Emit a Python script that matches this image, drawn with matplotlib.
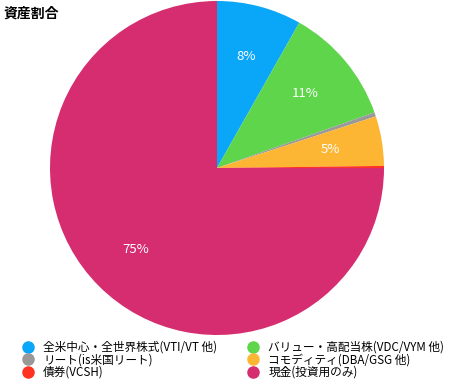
import matplotlib
matplotlib.use('Agg')
import matplotlib.pyplot as plt
from matplotlib.lines import Line2D

plt.rcParams['font.family'] = ['Noto Sans CJK JP', 'DejaVu Sans']

# データ
labels = ['全米中心・全世界株式(VTI/VT 他)', 'バリュー・高配当株(VDC/VYM 他)',
          'リート(is米国リート)', 'コモディティ(DBA/GSG 他)',
          '債券(VCSH)', '現金(投資用のみ)']
values = [8.2, 11.4, 0.4, 4.8, 0.2, 75.0]
colors = ['#0aa6f7', '#5ed54b', '#999999', '#fdb634', '#ff3322', '#d62c70']

fig = plt.figure(figsize=(4.5, 3.82), dpi=100)
ax = fig.add_axes([50 / 450, 47 / 382, 334 / 450, 334 / 382])

def fmt(p):
    return f'{p:.0f}%' if p >= 1 else ''

wedges, texts, autotexts = ax.pie(values, colors=colors, startangle=90, counterclock=False,
                                  autopct=fmt, pctdistance=0.69,
                                  wedgeprops=dict(linewidth=0))
for t in autotexts:
    t.set_color('white')
    t.set_fontsize(9.5)
ax.set_xlim(-1, 1)
ax.set_ylim(-1, 1)
ax.set_aspect('equal')

fig.text(4 / 450, 1 - 14 / 382, '資産割合', fontsize=10, fontweight='bold', va='center', ha='left')

# 凡例 (左列: 0,2,4 / 右列: 1,3,5)
order = [0, 2, 4, 1, 3, 5]
handles = [Line2D([], [], marker='o', linestyle='', markersize=8,
                  markerfacecolor=colors[i], markeredgecolor=colors[i]) for i in order]
fig.legend(handles, [labels[i] for i in order], ncol=2, loc='upper left',
           bbox_to_anchor=(22 / 450, 1 - 341 / 382), frameon=False, fontsize=8.4,
           handletextpad=0.8, labelspacing=-0.05, columnspacing=2.6, handlelength=1.0,
           borderaxespad=0, borderpad=0)

fig.savefig('out.png', dpi=100)
